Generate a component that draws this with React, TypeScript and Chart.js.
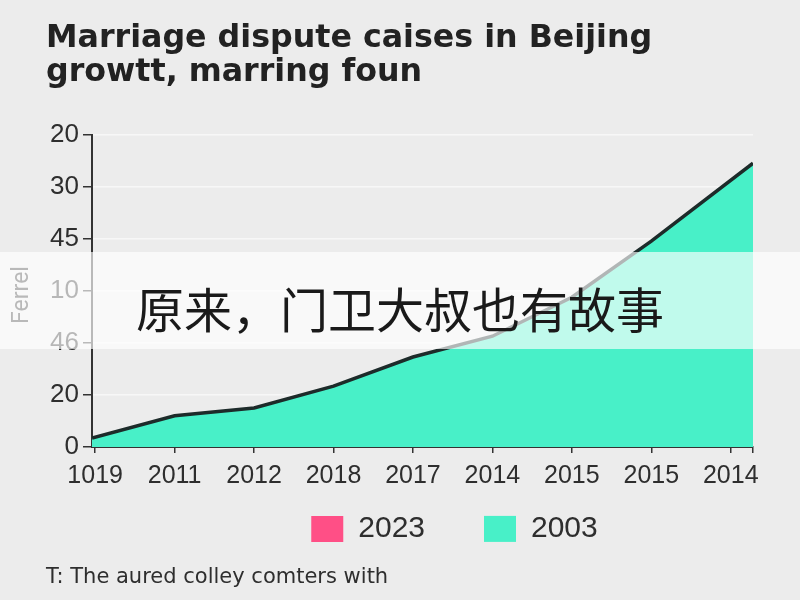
import React, { useEffect, useRef } from "react";
import { Chart, registerables } from "chart.js";

Chart.register(...registerables);

const titleLines = ["Marriage dispute caises in Beijing", "growtt, marring foun"];
const footerText = "T: The aured colley comters with";
const yAxisTitle = "Ferrel";
const overlayText = "原来，门卫大叔也有故事";

// x-axis category labels (as shown, left to right)
const xLabels = ["1019", "2011", "2012", "2018", "2017", "2014", "2015", "2015", "2014"];
// y-axis tick labels (bottom to top)
const yTickLabels = ["0", "20", "46", "10", "45", "30", "20"];

// series positions along the x axis (label index units) and values (y axis units)
const seriesX = [-0.04, 1, 2, 3, 4, 5, 6, 7, 8.28];
const series2003 = [1.7, 6.0, 7.5, 11.7, 17.3, 21.3, 28.8, 39.6, 54.6];
const series2023: number[] = [];

const legendNames = ["2023", "2003"];

const TEAL = "#48f0c8";
const PINK = "#ff4f86";
const LINE = "#1d2b2a";
const TEXT = "#2e2e2e";
const BG = "#ececec";

const legendShift = {
  id: "legendShift",
  afterLayout(chart: any) {
    const lg = chart.legend;
    if (lg) {
      lg.left += 55;
      lg.right += 55;
    }
  },
};

export default function App() {
  const canvasRef = useRef<HTMLCanvasElement | null>(null);

  useEffect(() => {
    const ctx = canvasRef.current;
    if (!ctx) return;
    const chart = new Chart(ctx, {
      type: "line",
      plugins: [legendShift],
      data: {
        datasets: [
          {
            label: legendNames[0],
            data: series2023.map((v, i) => ({ x: seriesX[i], y: v })),
            backgroundColor: PINK,
            borderColor: PINK,
            borderWidth: 0,
          },
          {
            label: legendNames[1],
            data: series2003.map((v, i) => ({ x: seriesX[i], y: v })),
            backgroundColor: TEAL,
            borderColor: LINE,
            borderWidth: 3.5,
            fill: "origin",
            pointRadius: 0,
            tension: 0,
          },
        ],
      },
      options: {
        animation: false,
        responsive: false,
        devicePixelRatio: 1,
        layout: { padding: { left: 46, right: 47, top: 0, bottom: 5 } },
        plugins: {
          title: {
            display: true,
            text: titleLines,
            align: "start",
            color: "#222",
            font: { family: "'DejaVu Sans'", size: 31.7, weight: "bold", lineHeight: 1.07 },
            padding: { top: 22, bottom: 45.3 },
          },
          subtitle: {
            display: true,
            text: footerText,
            position: "bottom",
            align: "start",
            color: TEXT,
            font: { family: "'DejaVu Sans'", size: 21, lineHeight: 1.1 },
            padding: { top: 12, bottom: 6 },
          },
          legend: {
            position: "bottom",
            labels: {
              boxWidth: 32,
              boxHeight: 26,
              padding: 59,
              color: TEXT,
              font: { family: "Liberation Sans", size: 30 },
              generateLabels: (c: any) =>
                (Chart.defaults.plugins.legend.labels as any)
                  .generateLabels(c)
                  .map((l: any) => ({ ...l, strokeStyle: l.fillStyle, lineWidth: 0 })),
            },
          },
          tooltip: { enabled: false },
        },
        scales: {
          x: {
            type: "linear",
            min: seriesX[0],
            max: seriesX[seriesX.length - 1],
            afterBuildTicks: (s: any) => {
              s.ticks = xLabels.map((_, i) => ({ value: i })).concat([{ value: seriesX[seriesX.length - 1] }]);
            },
            afterFit: (s: any) => {
              s.height = 8;
            },
            ticks: {
              autoSkip: false,
              maxRotation: 0,
              mirror: true,
              color: TEXT,
              font: { family: "Liberation Sans", size: 25 },
              padding: -44,
              callback: (v: any) => (Number.isInteger(v) && xLabels[v] !== undefined ? xLabels[v] : ""),
            },
            grid: { drawOnChartArea: false, drawTicks: true, tickLength: 6, color: "#333", lineWidth: 1.5 },
            border: { display: true, color: "#333", width: 2 },
          },
          y: {
            min: 0,
            max: 60,
            afterBuildTicks: (s: any) => {
              s.ticks = yTickLabels.map((_, i) => ({ value: i * 10 }));
            },
            afterFit: (s: any) => {
              s.width = 46;
            },
            ticks: {
              color: TEXT,
              font: { family: "Liberation Sans", size: 26 },
              padding: 4,
              callback: (v: any) => yTickLabels[Math.round(v / 10)],
            },
            title: {
              display: false,
              text: yAxisTitle,
            },
            grid: {
              color: "#f7f7f7",
              lineWidth: 1.5,
              tickColor: "#333",
              tickLength: 9,
            },
            border: { display: true, color: "#333", width: 2 },
          },
        },
      },
    });
    return () => chart.destroy();
  }, []);

  return (
    <div style={{ position: "fixed", left: 0, top: 0, width: 800, height: 600, background: BG, overflow: "hidden" }}>
      <canvas ref={canvasRef} width={800} height={600} style={{ position: "absolute", left: 0, top: 0 }} />
      <div
        style={{
          position: "absolute",
          left: 8,
          top: 295,
          transform: "translate(-50%, -50%) rotate(-90deg)",
          transformOrigin: "center",
          marginLeft: 12,
          color: "#333",
          fontFamily: "Roboto, sans-serif",
          fontSize: 23,
          whiteSpace: "nowrap",
        }}
      >
        {yAxisTitle}
      </div>
      <div
        style={{
          position: "absolute",
          left: 0,
          top: 252,
          width: 800,
          height: 97,
          background: "rgba(255,255,255,0.66)",
          display: "flex",
          alignItems: "center",
          justifyContent: "center",
          paddingTop: 12,
          boxSizing: "border-box",
          fontFamily: "'Noto Sans CJK SC', sans-serif",
          fontSize: 48,
          color: "#1a1a1a",
        }}
      >
        {overlayText}
      </div>
    </div>
  );
}
